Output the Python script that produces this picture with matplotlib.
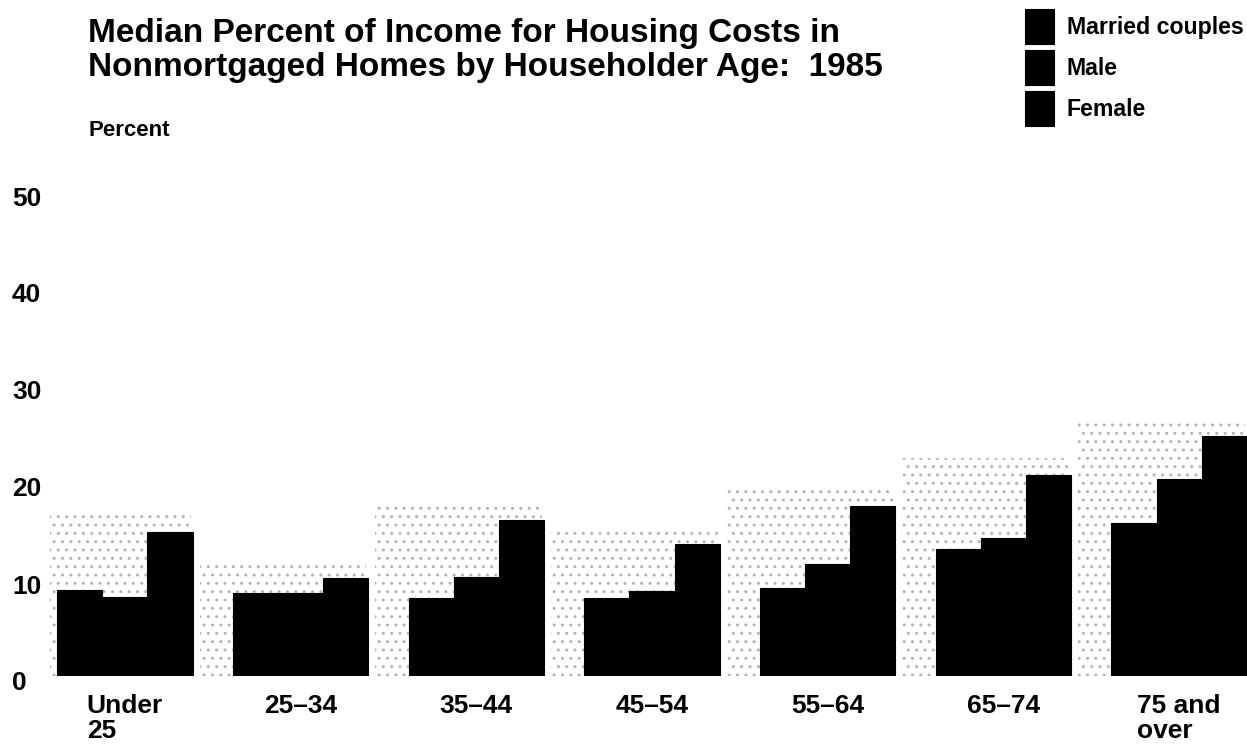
import numpy as np
import matplotlib.pyplot as plt
from matplotlib.transforms import ScaledTranslation

plt.rcParams['font.family'] = ['Liberation Sans', 'DejaVu Sans']
plt.rcParams['font.weight'] = 'bold'
plt.rcParams['hatch.linewidth'] = 1.0

age_groups = ['Under\n25', '25–34', '35–44', '45–54', '55–64', '65–74', '75 and\nover']
married = [8.9, 8.6, 8.0, 8.0, 9.1, 13.1, 15.8]
male = [8.1, 8.6, 10.2, 8.8, 11.5, 14.2, 20.3]
female = [14.8, 10.1, 16.1, 13.6, 17.5, 20.7, 24.7]
series = [('Married couples', married), ('Male', male), ('Female', female)]
yticks = [0, 10, 20, 30, 40, 50]

fig = plt.figure(figsize=(12.47, 7.52), dpi=100)
ax = fig.add_axes([50 / 1247, 76 / 752, 1197 / 1247, 485 / 752])

x = np.arange(len(age_groups))
w = 0.257

# light speckled tint behind each cluster, just above its tallest bar
tops = np.max([married, male, female], axis=0) + 1.8
ax.bar(x - 0.1, tops, width=0.95, color='none', edgecolor='#b4b4b4',
       hatch='..', linewidth=0, zorder=1)

handles = []
for i, (name, vals) in enumerate(series):
    b = ax.bar(x + (i - 1) * w, vals, width=w, color='black',
               edgecolor='black', linewidth=0.8, label=name, zorder=2)
    handles.append(b)

ax.set_xlim(-0.426, 6.386)
ax.set_ylim(0, 50)
for s in ax.spines.values():
    s.set_visible(False)

ax.set_yticks(yticks)
ax.set_yticklabels([str(v) for v in yticks], fontsize=19, ha='left')
ax.tick_params(axis='y', length=0, pad=38 * 0.72)
shift = ScaledTranslation(0, -5 / 100, fig.dpi_scale_trans)
for lab in ax.get_yticklabels():
    lab.set_transform(lab.get_transform() + shift)

ax.set_xticks(x)
ax.set_xticklabels(age_groups, fontsize=19, multialignment='left',
                   linespacing=1.05)
ax.tick_params(axis='x', length=0, pad=13)

fig.text(88 / 1247, 1 - 42 / 752, 'Median Percent of Income for Housing Costs in',
         fontsize=24, fontweight='bold', va='baseline')
fig.text(88 / 1247, 1 - 76 / 752, 'Nonmortgaged Homes by Householder Age:  1985',
         fontsize=24, fontweight='bold', va='baseline')
fig.text(88 / 1247, 1 - 130 / 752, 'Percent', fontsize=16, va='center')

fig.legend(handles=handles, loc='upper left',
           bbox_to_anchor=(1025 / 1247, 1 - 9 / 752), frameon=False,
           handlelength=1.25, handleheight=1.95,
           labelspacing=0.25, handletextpad=0.55, borderpad=0,
           borderaxespad=0, prop={'weight': 'bold', 'size': 16.7})

fig.savefig('out.png', dpi=100)
